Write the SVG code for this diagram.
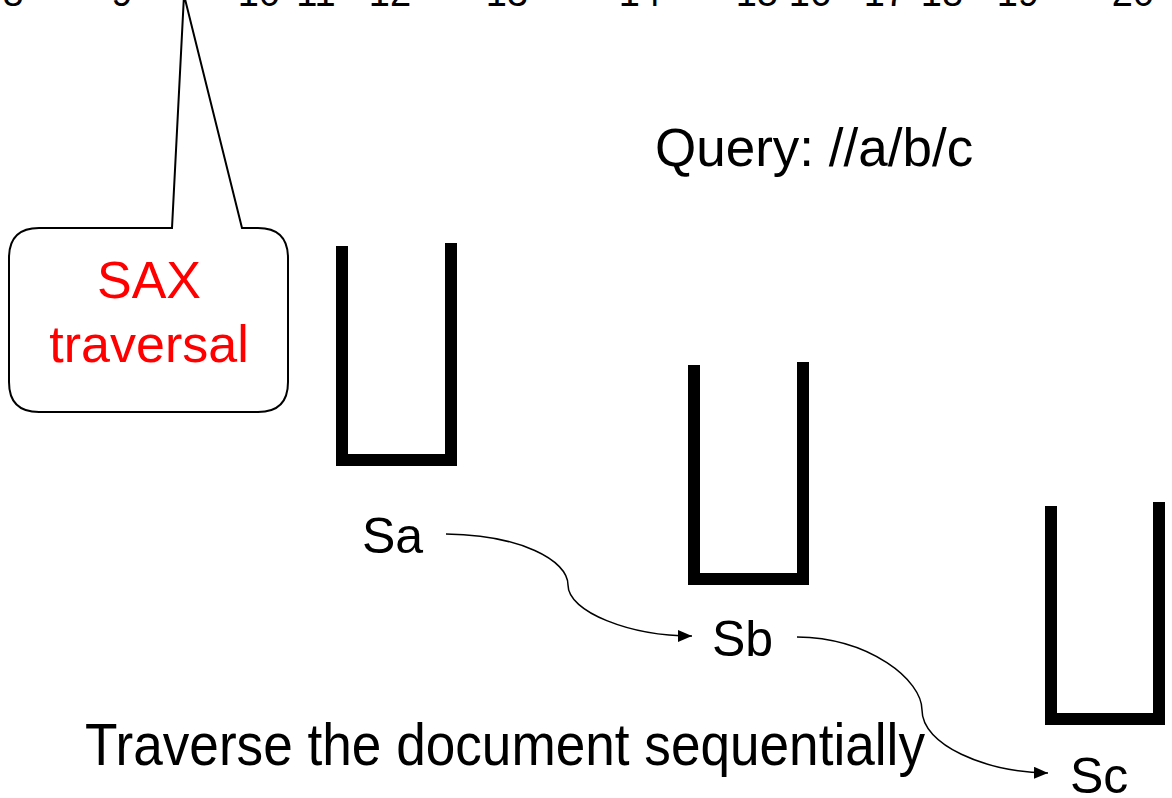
<svg xmlns="http://www.w3.org/2000/svg" width="1172" height="798" viewBox="0 0 1172 798">
<style>
text{font-family:"Liberation Sans",Arial,sans-serif;fill:#000}
.num{font-size:38px;text-anchor:middle}
.lbl{font-size:50px}
.red{fill:#ff0000;font-size:52px;text-anchor:middle}
.stack{fill:none;stroke:#000;stroke-width:12;stroke-linecap:butt;stroke-linejoin:miter}
.conn{fill:none;stroke:#000;stroke-width:1.5}
</style>
<defs>
<marker id="arr" viewBox="0 0 14 12" refX="14" refY="6" markerWidth="14" markerHeight="12" markerUnits="userSpaceOnUse" orient="auto">
<path d="M0,0 L14,6 L0,12 z" fill="#000"/>
</marker>
</defs>
<rect width="1172" height="798" fill="#fff"/>
<g id="numbers">
<text class="num" x="13" y="6">8</text>
<text class="num" x="122" y="6">9</text>
<text class="num" x="259" y="6">10</text>
<text class="num" x="316" y="6">11</text>
<text class="num" x="390" y="6">12</text>
<text class="num" x="507" y="6">13</text>
<text class="num" x="640" y="6">14</text>
<text class="num" x="757" y="6">15</text>
<text class="num" x="810" y="6">16</text>
<text class="num" x="885" y="6">17</text>
<text class="num" x="942" y="6">18</text>
<text class="num" x="1018" y="6">19</text>
<text class="num" x="1133" y="6">20</text>
</g>
<g id="callout">
<path d="M39,228 L172,228 L184,-5 L242,228 L258,228 Q288,228 288,258 L288,382 Q288,412 258,412 L39,412 Q9,412 9,382 L9,258 Q9,228 39,228 Z" fill="#fff" stroke="#000" stroke-width="2"/>
<text class="red" x="149" y="298">SAX</text>
<text class="red" x="149" y="362">traversal</text>
</g>
<g id="query">
<text x="655" y="166" font-size="53">Query: //a/b/c</text>
</g>
<g id="stackA">
<path class="stack" d="M342,246 L342,460 L451,460 L451,243"/>
<text class="lbl" x="362" y="553">Sa</text>
</g>
<g id="stackB">
<path class="stack" d="M694,365 L694,579 L803,579 L803,362"/>
<text class="lbl" x="712" y="656">Sb</text>
</g>
<g id="stackC">
<path class="stack" d="M1051,506 L1051,719 L1159,719 L1159,502"/>
<text class="lbl" x="1070" y="793">Sc</text>
</g>
<g id="connectors">
<path class="conn" marker-end="url(#arr)" d="M446,534 C520,535 568,560 568,585 C568,612 630,636 692,636"/>
<path class="conn" marker-end="url(#arr)" d="M797,637 C870,638 922,680 922,710 C922,745 985,772 1048,773"/>
</g>
<g id="caption">
<text x="85" y="765" font-size="60" textLength="840" lengthAdjust="spacingAndGlyphs">Traverse the document sequentially</text>
</g>
</svg>
